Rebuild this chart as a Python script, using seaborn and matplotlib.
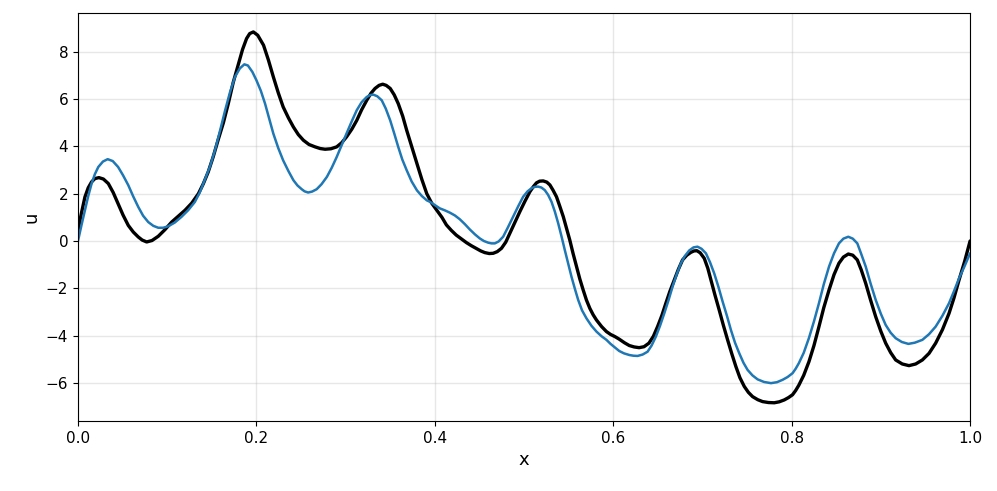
import matplotlib
matplotlib.use("Agg")
import matplotlib.pyplot as plt
import seaborn as sns

# black curve (reference solution)
x_black = [0.0, 0.004, 0.0078, 0.0115, 0.0153, 0.019, 0.0235, 0.0285, 0.034, 0.0395,
           0.045, 0.0505, 0.0564, 0.062, 0.0676, 0.072, 0.077, 0.083, 0.090, 0.0975,
           0.105, 0.1125, 0.12, 0.1275, 0.135, 0.1405, 0.146, 0.1515, 0.157, 0.163,
           0.1685, 0.174, 0.18, 0.1845, 0.189, 0.1925, 0.1966, 0.2015, 0.208, 0.2135,
           0.219, 0.2245, 0.230, 0.236, 0.2415, 0.247, 0.2527, 0.259, 0.2658, 0.2715,
           0.277, 0.2835, 0.290, 0.2955, 0.301, 0.307, 0.3125, 0.318, 0.3237, 0.3285,
           0.333, 0.3375, 0.3416, 0.3455, 0.350, 0.3545, 0.359, 0.364, 0.3685, 0.374,
           0.380, 0.3855, 0.391, 0.3965, 0.402, 0.408, 0.413, 0.4185, 0.424, 0.430,
           0.4355, 0.441, 0.4467, 0.4515, 0.456, 0.461, 0.4654, 0.470, 0.4747, 0.4795,
           0.484, 0.4895, 0.4953, 0.501, 0.5065, 0.5105, 0.514, 0.5175, 0.5215, 0.5255,
           0.529, 0.5325, 0.5364, 0.540, 0.544, 0.5475, 0.5513, 0.555, 0.5588, 0.5625,
           0.5663, 0.570, 0.5738, 0.5775, 0.5812, 0.587, 0.5924, 0.597, 0.6018, 0.6067,
           0.6125, 0.618, 0.6235, 0.629, 0.6345, 0.640, 0.645, 0.6497, 0.6545, 0.659,
           0.6635, 0.6684, 0.673, 0.6777, 0.6825, 0.687, 0.6905, 0.6938, 0.6975, 0.702,
           0.706, 0.7095, 0.714, 0.7188, 0.7235, 0.7282, 0.733, 0.7375, 0.742, 0.7469,
           0.7515, 0.7562, 0.762, 0.7674, 0.774, 0.7805, 0.786, 0.7917, 0.7965, 0.801,
           0.8045, 0.808, 0.8135, 0.8194, 0.825, 0.8306, 0.836, 0.8419, 0.8475, 0.853,
           0.858, 0.8635, 0.8685, 0.8736, 0.878, 0.883, 0.8885, 0.8942, 0.900, 0.9054,
           0.911, 0.9166, 0.924, 0.9315, 0.939, 0.9465, 0.954, 0.9614, 0.969, 0.9764,
           0.982, 0.9876, 0.994, 1.0]
u_black = [0.45, 1.2, 1.86, 2.25, 2.5, 2.64, 2.68, 2.62, 2.43, 2.05,
           1.58, 1.1, 0.66, 0.38, 0.17, 0.04, -0.04, 0.02, 0.2, 0.48,
           0.8, 1.05, 1.3, 1.6, 2.0, 2.42, 2.92, 3.55, 4.26, 5.0,
           5.81, 6.7, 7.5, 8.1, 8.56, 8.77, 8.84, 8.7, 8.28, 7.65,
           6.94, 6.27, 5.67, 5.2, 4.82, 4.5, 4.26, 4.08, 3.98, 3.91,
           3.88, 3.9, 3.98, 4.15, 4.4, 4.73, 5.1, 5.55, 5.95, 6.25,
           6.45, 6.58, 6.63, 6.58, 6.45, 6.18, 5.81, 5.28, 4.68, 4.0,
           3.27, 2.6, 2.0, 1.6, 1.31, 1.0, 0.68, 0.45, 0.25, 0.08,
           -0.07, -0.2, -0.32, -0.42, -0.49, -0.53, -0.52, -0.45, -0.31, -0.05,
           0.32, 0.78, 1.24, 1.68, 2.08, 2.3, 2.46, 2.53, 2.54, 2.49,
           2.37, 2.15, 1.87, 1.48, 1.03, 0.55, 0.04, -0.53, -1.08, -1.6,
           -2.07, -2.5, -2.85, -3.12, -3.34, -3.62, -3.83, -3.95, -4.04, -4.15,
           -4.3, -4.42, -4.48, -4.51, -4.47, -4.32, -4.03, -3.62, -3.15, -2.63,
           -2.13, -1.65, -1.2, -0.8, -0.6, -0.48, -0.42, -0.41, -0.5, -0.73,
           -1.15, -1.65, -2.28, -2.92, -3.57, -4.18, -4.78, -5.31, -5.78, -6.15,
           -6.4, -6.58, -6.71, -6.79, -6.83, -6.84, -6.8, -6.72, -6.62, -6.5,
           -6.32, -6.1, -5.68, -5.1, -4.42, -3.62, -2.82, -2.07, -1.42, -0.94,
           -0.68, -0.55, -0.6, -0.8, -1.22, -1.79, -2.5, -3.2, -3.82, -4.32,
           -4.72, -5.03, -5.2, -5.27, -5.2, -5.03, -4.75, -4.32, -3.75, -3.06,
           -2.4, -1.65, -0.85, 0.0]

# blue curve (approximation)
x_blue = [0.0, 0.004, 0.0078, 0.0115, 0.0153, 0.019, 0.0228, 0.028, 0.0333, 0.039,
          0.045, 0.0505, 0.0564, 0.062, 0.0676, 0.073, 0.0788, 0.0845, 0.090, 0.0955,
          0.101, 0.1085, 0.116, 0.1235, 0.131, 0.1365, 0.142, 0.148, 0.1536, 0.1595,
          0.165, 0.1705, 0.176, 0.1815, 0.1865, 0.1905, 0.1955, 0.2, 0.205, 0.2097,
          0.2145, 0.219, 0.2245, 0.230, 0.236, 0.2415, 0.246, 0.2508, 0.254, 0.258,
          0.2625, 0.2676, 0.273, 0.279, 0.2845, 0.290, 0.2955, 0.301, 0.307, 0.3125,
          0.318, 0.3237, 0.3275, 0.331, 0.3355, 0.3405, 0.345, 0.350, 0.3545, 0.359,
          0.3635, 0.3685, 0.374, 0.380, 0.3855, 0.391, 0.3944, 0.40, 0.4056, 0.411,
          0.4168, 0.4225, 0.428, 0.4335, 0.4392, 0.445, 0.4504, 0.455, 0.4598, 0.4635,
          0.4673, 0.4715, 0.4766, 0.482, 0.4878, 0.4935, 0.499, 0.504, 0.5084, 0.512,
          0.5158, 0.5195, 0.5233, 0.527, 0.5308, 0.5345, 0.5383, 0.542, 0.5457, 0.5495,
          0.5532, 0.557, 0.5607, 0.565, 0.570, 0.5755, 0.5812, 0.587, 0.5924, 0.597,
          0.6018, 0.6067, 0.612, 0.618, 0.6225, 0.6273, 0.633, 0.6385, 0.643, 0.6478,
          0.6525, 0.6572, 0.662, 0.6665, 0.671, 0.6759, 0.680, 0.6852, 0.690, 0.6945,
          0.699, 0.7039, 0.7085, 0.7132, 0.718, 0.7226, 0.7275, 0.7319, 0.7365, 0.7413,
          0.746, 0.7506, 0.756, 0.7618, 0.769, 0.7768, 0.7835, 0.7898, 0.7955, 0.801,
          0.8045, 0.808, 0.8135, 0.8194, 0.825, 0.8306, 0.836, 0.8419, 0.8475, 0.853,
          0.858, 0.8635, 0.8685, 0.8736, 0.878, 0.883, 0.8885, 0.8942, 0.900, 0.9054,
          0.911, 0.9166, 0.9235, 0.9308, 0.938, 0.9465, 0.954, 0.9614, 0.969, 0.9764,
          0.982, 0.9876, 0.994, 1.0]
u_blue = [0.0, 0.68, 1.3, 1.9, 2.43, 2.83, 3.13, 3.36, 3.46, 3.38,
          3.13, 2.78, 2.36, 1.88, 1.44, 1.07, 0.8, 0.64, 0.56, 0.56,
          0.62, 0.78, 1.02, 1.3, 1.65, 2.05, 2.57, 3.15, 3.84, 4.7,
          5.53, 6.3, 6.94, 7.3, 7.47, 7.42, 7.15, 6.8, 6.35, 5.81,
          5.15, 4.54, 3.93, 3.41, 2.95, 2.57, 2.35, 2.19, 2.1, 2.05,
          2.09, 2.19, 2.4, 2.71, 3.1, 3.55, 4.05, 4.54, 5.07, 5.53,
          5.87, 6.09, 6.17, 6.19, 6.12, 5.95, 5.6, 5.1, 4.55, 3.98,
          3.45, 2.99, 2.52, 2.14, 1.9, 1.72, 1.66, 1.52, 1.38, 1.3,
          1.2, 1.08, 0.92, 0.72, 0.49, 0.28, 0.11, 0.0, -0.07, -0.1,
          -0.1, -0.02, 0.18, 0.58, 1.03, 1.47, 1.87, 2.1, 2.23, 2.29,
          2.3, 2.26, 2.15, 1.95, 1.66, 1.25, 0.75, 0.2, -0.38, -0.95,
          -1.51, -2.02, -2.49, -2.93, -3.27, -3.58, -3.83, -4.03, -4.18, -4.35,
          -4.5, -4.65, -4.75, -4.82, -4.85, -4.86, -4.8, -4.68, -4.42, -4.04,
          -3.58, -3.06, -2.5, -1.93, -1.42, -0.94, -0.65, -0.4, -0.27, -0.24,
          -0.33, -0.52, -0.9, -1.37, -1.95, -2.56, -3.17, -3.76, -4.3, -4.75,
          -5.15, -5.45, -5.68, -5.85, -5.96, -6.01, -5.97, -5.87, -5.75, -5.59,
          -5.4, -5.17, -4.73, -4.1, -3.4, -2.63, -1.83, -1.08, -0.52, -0.1,
          0.1, 0.18, 0.1, -0.1, -0.55, -1.08, -1.8, -2.49, -3.08, -3.55,
          -3.88, -4.11, -4.27, -4.35, -4.3, -4.18, -3.94, -3.62, -3.16, -2.63,
          -2.12, -1.58, -1.05, -0.52]

fig, ax = plt.subplots(figsize=(9.97, 4.91), dpi=100)
fig.subplots_adjust(left=0.0782, right=0.973, top=0.9735, bottom=0.1426)

sns.lineplot(x=x_black, y=u_black, ax=ax, color='black', linewidth=2.4,
             solid_joinstyle='round', solid_capstyle='round')
sns.lineplot(x=x_blue, y=u_blue, ax=ax, color='#1f77b4', linewidth=1.8,
             solid_joinstyle='round', solid_capstyle='round')

ax.set_xlim(0, 1)
ax.set_ylim(-7.61, 9.64)
ax.grid(True, color='#b0b0b0', alpha=0.3, linewidth=1)
ax.set_xlabel('x', fontsize=13)
ax.set_ylabel('u', fontsize=13)
ax.tick_params(labelsize=11)

fig.savefig('out.png', dpi=100)
